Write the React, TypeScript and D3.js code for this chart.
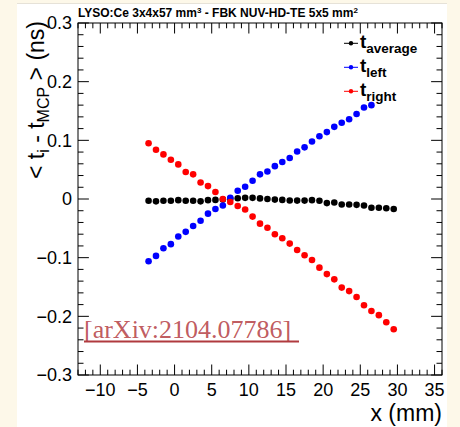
import React from "react";
import * as d3 from "d3";

const xAverage = [-3.5,-2.5,-1.5,-0.5,0.5,1.5,2.5,3.5,4.5,5.5,6.5,7.5,8.5,9.5,10.5,11.5,12.5,13.5,14.5,15.5,16.5,17.5,18.5,19.5,20.5,21.5,22.5,23.5,24.5,25.5,26.5,27.5,28.5,29.5];
const tAverage = [-0.003,-0.004,-0.003,-0.003,-0.002,-0.003,-0.003,-0.004,-0.002,-0.0015,-0.001,0.0005,0.0013,0.002,0.002,0.001,0.0,-0.001,-0.0015,-0.0025,-0.0027,-0.0027,-0.002,-0.003,-0.007,-0.006,-0.0095,-0.0095,-0.010,-0.011,-0.015,-0.015,-0.0157,-0.017];

const xLeft = [-3.5,-2.5,-1.5,-0.5,0.5,1.5,2.5,3.5,4.5,5.5,6.5,7.5,8.5,9.5,10.5,11.5,12.5,13.5,14.5,15.5,16.5,17.5,18.5,19.5,20.5,21.5,22.5,23.5,24.5,25.5,26.5];
const tLeft = [-0.106,-0.097,-0.084,-0.077,-0.064,-0.056,-0.046,-0.037,-0.025,-0.017,-0.011,0.002,0.014,0.021,0.031,0.042,0.047,0.056,0.063,0.070,0.081,0.088,0.098,0.107,0.114,0.123,0.130,0.136,0.145,0.156,0.160];

const xRight = [-3.5,-2.5,-1.5,-0.5,0.5,1.5,2.5,3.5,4.5,5.5,6.5,7.5,8.5,9.5,10.5,11.5,12.5,13.5,14.5,15.5,16.5,17.5,18.5,19.5,20.5,21.5,22.5,23.5,24.5,25.5,26.5,27.5,28.5,29.5];
const tRight = [0.095,0.084,0.076,0.067,0.059,0.046,0.042,0.028,0.022,0.012,0.0,-0.005,-0.012,-0.018,-0.030,-0.042,-0.049,-0.060,-0.067,-0.076,-0.087,-0.096,-0.104,-0.117,-0.128,-0.137,-0.151,-0.157,-0.167,-0.181,-0.191,-0.198,-0.210,-0.222];

const xMajorTicks = [-10,-5,0,5,10,15,20,25,30,35];
const yMajorTicks = [-0.3,-0.2,-0.1,0,0.1,0.2,0.3];

const series = [
  { name: "average", xs: xAverage, ys: tAverage, color: "#000000" },
  { name: "left", xs: xLeft, ys: tLeft, color: "#0000ff" },
  { name: "right", xs: xRight, ys: tRight, color: "#ff0000" },
];

const W = 460, H = 427;
const L = 78, R = 442, T = 23, B = 375;

function fmtY(v: number) {
  if (Math.abs(v) < 1e-9) return "0";
  const s = v.toFixed(1);
  return s.replace("-", "\u2212");
}
function fmtX(v: number) {
  return String(v).replace("-", "\u2212");
}

export default function App() {
  const x = d3.scaleLinear().domain([-13, 36]).range([L, R]);
  const y = d3.scaleLinear().domain([-0.3, 0.3]).range([B, T]);
  const xMinor = d3.range(-13, 36.01, 1).filter((v) => v % 5 !== 0);
  const yMinor = d3.range(-15, 16, 1).map((k) => k * 0.02).filter((v) => Math.abs(Math.round(v * 50) % 5) !== 0);
  const xMajLen = 10.5, xMinLen = 5.3, yMajLen = 10.9, yMinLen = 5.5;
  const font = "'Liberation Sans', Arial, Helvetica, sans-serif";

  return (
    <svg width={W} height={H} style={{ position: "absolute", left: 0, top: 0 }} fontFamily={font}>
      <rect x={0} y={0} width={W} height={H} fill="#fdf8e9" />
      <rect x={17} y={3} width={430} height={H - 3} fill="#ffffff" />
      <line x1={17} x2={447} y1={3.5} y2={3.5} stroke="#e6e2d8" strokeWidth={1} />

      {/* title */}
      <text x={78} y={17} fontSize={12} fontWeight="bold" fill="#000">
        LYSO:Ce 3x4x57 mm<tspan dy={-4.5} fontSize={8}>3</tspan>
        <tspan dy={4.5}> - FBK NUV-HD-TE 5x5 mm</tspan>
        <tspan dy={-4.5} fontSize={8}>2</tspan>
      </text>

      {/* data */}
      {series.map((s) => (
        <g key={s.name}>
          {s.xs.map((xv, i) => (
            <circle key={i} cx={x(xv)} cy={y(s.ys[i])} r={3.3} fill={s.color} />
          ))}
        </g>
      ))}

      {/* frame */}
      <rect x={L} y={T} width={R - L} height={B - T} fill="none" stroke="#000" strokeWidth={1} />

      {/* x ticks bottom and top */}
      {xMajorTicks.map((v) => (
        <g key={"xm" + v}>
          <line x1={x(v)} x2={x(v)} y1={B} y2={B - xMajLen} stroke="#000" />
          <line x1={x(v)} x2={x(v)} y1={T} y2={T + xMajLen} stroke="#000" />
          <text x={x(v)} y={396} fontSize={18} textAnchor="middle" fill="#000">{fmtX(v)}</text>
        </g>
      ))}
      {xMinor.map((v) => (
        <g key={"xn" + v}>
          <line x1={x(v)} x2={x(v)} y1={B} y2={B - xMinLen} stroke="#000" />
          <line x1={x(v)} x2={x(v)} y1={T} y2={T + xMinLen} stroke="#000" />
        </g>
      ))}

      {/* y ticks left and right */}
      {yMajorTicks.map((v) => (
        <g key={"ym" + v}>
          <line x1={L} x2={L + yMajLen} y1={y(v)} y2={y(v)} stroke="#000" />
          <line x1={R} x2={R - yMajLen} y1={y(v)} y2={y(v)} stroke="#000" />
          <text x={72} y={y(v)} dy="0.36em" fontSize={18} textAnchor="end" fill="#000">{fmtY(v)}</text>
        </g>
      ))}
      {yMinor.map((v, i) => (
        <g key={"yn" + i}>
          <line x1={L} x2={L + yMinLen} y1={y(v)} y2={y(v)} stroke="#000" />
          <line x1={R} x2={R - yMinLen} y1={y(v)} y2={y(v)} stroke="#000" />
        </g>
      ))}

      {/* axis titles */}
      <text x={R} y={421} fontSize={23} textAnchor="end" fill="#000">x (mm)</text>
      <text transform={`translate(44,21) rotate(-90)`} fontSize={23} textAnchor="end" fill="#000">
        {"< t"}<tspan dy={5} fontSize={16}>i</tspan>
        <tspan dy={-5}>{" - t"}</tspan>
        <tspan dy={5} fontSize={16}>MCP</tspan>
        <tspan dy={-5}>{" > (ns)"}</tspan>
      </text>

      {/* legend */}
      {series.map((s, i) => {
        const ly = 43.3 + i * 24;
        return (
          <g key={"lg" + s.name}>
            <line x1={344} x2={358} y1={ly} y2={ly} stroke={s.color} strokeWidth={1} />
            <circle cx={351} cy={ly} r={2.2} fill={s.color} />
            <text x={360} y={ly + 5} fontSize={19} fontWeight="bold" fill="#000">
              t<tspan dy={5} fontSize={13.5}>{s.name}</tspan>
            </text>
          </g>
        );
      })}

      {/* arXiv stamp */}
      <text x={84} y={337.5} fontSize={26} fontFamily="'Liberation Serif', 'Times New Roman', serif" fill="#b8474c" fillOpacity={0.9}>
        [arXiv:2104.07786]
      </text>
      <line x1={84} x2={299} y1={341.5} y2={341.5} stroke="#b03a3f" strokeWidth={2} />
    </svg>
  );
}
